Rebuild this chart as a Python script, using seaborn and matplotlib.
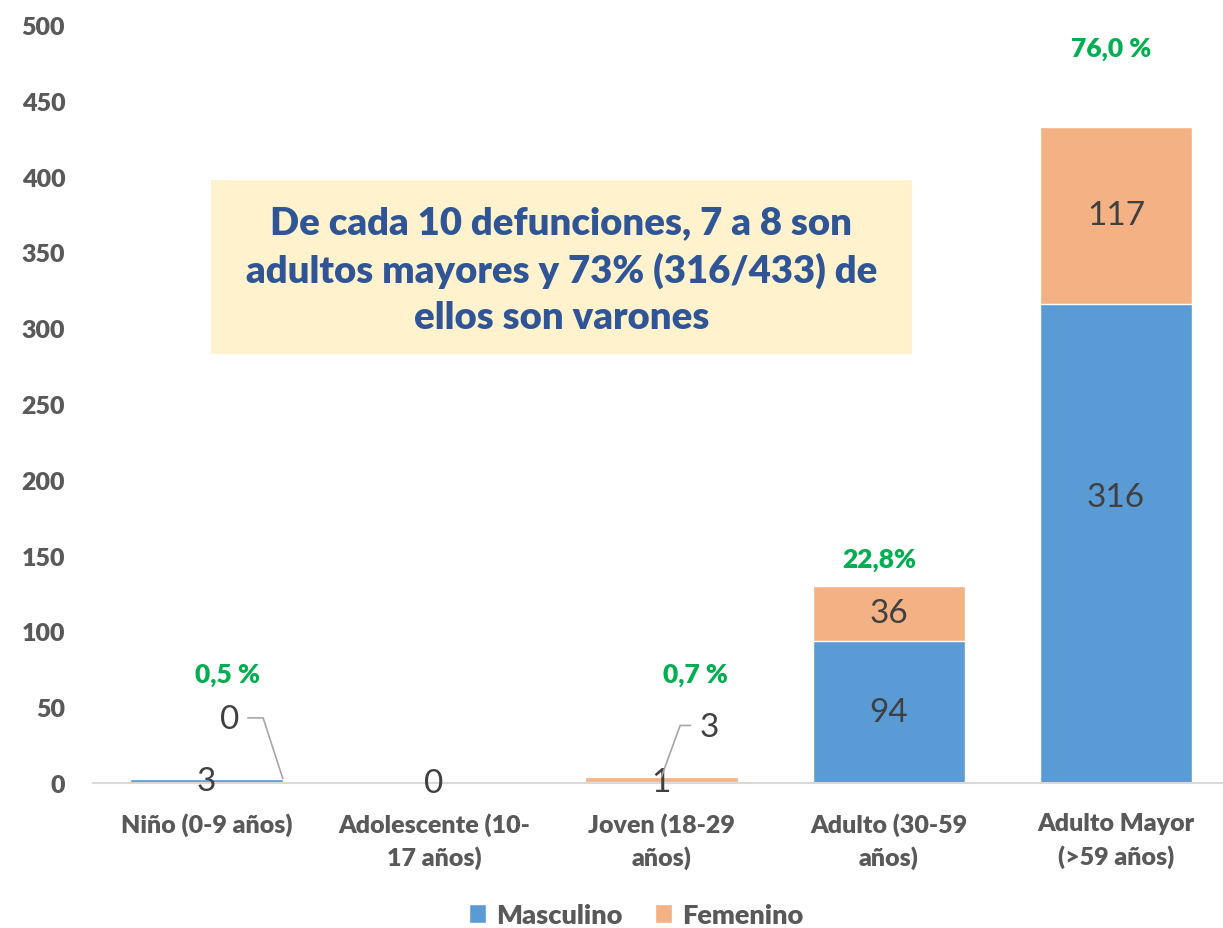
import pandas as pd
import seaborn as sns
import matplotlib.pyplot as plt
from matplotlib.patches import Rectangle

categorias = [
    "Niño (0-9 años)",
    "Adolescente (10-\n17 años)",
    "Joven (18-29\naños)",
    "Adulto (30-59\naños)",
    "Adulto Mayor\n(>59 años)",
]
masculino = [3, 0, 1, 94, 316]
femenino = [0, 0, 3, 36, 117]
porcentajes = ["0,5 %", "", "0,7 %", "22,8%", "76,0 %"]
mensaje = "De cada 10 defunciones, 7 a 8 son\nadultos mayores y 73% (316/433) de\nellos son varones"

AZUL = "#5B9BD5"
NARANJA = "#F4B183"
VERDE = "#00B050"
GRIS = "#595959"
ETIQ = "#404040"
PESO = "heavy"

df = pd.DataFrame({"cat": categorias, "Masculino": masculino, "Femenino": femenino})
df["total"] = df["Masculino"] + df["Femenino"]

sns.set_style("white")
plt.rcParams["font.family"] = ["Lato", "DejaVu Sans"]

fig = plt.figure(figsize=(12.23, 9.29), dpi=100)
ax = fig.add_axes([0.076, 0.156, 0.924, 0.816])

# stacked: total in orange, masculino over it in blue
sns.barplot(data=df, x="cat", y="total", color=NARANJA, width=0.67,
            saturation=1, label="Femenino", ax=ax)
sns.barplot(data=df, x="cat", y="Masculino", color=AZUL, width=0.67,
            saturation=1, label="Masculino", ax=ax)

ax.set_ylim(0, 500)
ax.set_xlim(-0.5, 4.47)
ax.set_yticks(range(0, 501, 50))
ax.set_xlabel("")
ax.set_ylabel("")
for s in ["top", "right", "left"]:
    ax.spines[s].set_visible(False)
ax.spines["bottom"].set_color("#D9D9D9")
ax.spines["bottom"].set_linewidth(1.5)
ax.tick_params(axis="both", length=0, labelsize=18, labelcolor=GRIS)
ax.tick_params(axis="x", pad=21)
ax.tick_params(axis="y", pad=20)
for t in ax.get_xticklabels() + ax.get_yticklabels():
    t.set_fontweight(PESO)
for t in ax.get_xticklabels():
    t.set_linespacing(1.5)

# segment value labels
ajuste_m = [0, 0, 0, 0, 31]  # data units, 316 label sits above centre
for i, (m, f) in enumerate(zip(masculino, femenino)):
    if i == 1:
        ax.text(i, 0, "0", ha="center", va="center", fontsize=24, color=ETIQ)
        continue
    ax.text(i, m / 2 + ajuste_m[i], str(m), ha="center", va="center",
            fontsize=24, color=ETIQ)
    if f >= 10:
        ax.text(i, m + f / 2, str(f), ha="center", va="center",
                fontsize=24, color=ETIQ)

# small values with leader lines
ax.annotate(str(femenino[0]), xy=(0.335, masculino[0] + femenino[0]),
            xytext=(0.1, 42), ha="center", va="center", fontsize=24, color=ETIQ,
            arrowprops=dict(arrowstyle="-", color="#A6A6A6", lw=1.2,
                            relpos=(1, 0.55), shrinkA=4, shrinkB=0,
                            connectionstyle="angle,angleA=0,angleB=108,rad=0"))
ax.annotate(str(femenino[2]), xy=(2.0, masculino[2] + femenino[2]),
            xytext=(2.21, 37), ha="center", va="center", fontsize=24, color=ETIQ,
            arrowprops=dict(arrowstyle="-", color="#A6A6A6", lw=1.2,
                            relpos=(0, 0.55), shrinkA=4, shrinkB=0,
                            connectionstyle="angle,angleA=0,angleB=70,rad=0"))

# percentage labels
desp = [(0.09, 69), (0, 0), (0.15, 68), (-0.04, 18), (-0.02, 52)]
for i, p in enumerate(porcentajes):
    if not p:
        continue
    dx, dy = desp[i]
    ax.text(i + dx, df["total"][i] + dy, p, ha="center", va="center",
            fontsize=19, fontweight=PESO, color=VERDE)

# message box
fig.patches.append(Rectangle((0.1725, 0.618), 0.573, 0.187, transform=fig.transFigure,
                             facecolor="#FFF2CC", edgecolor="none", zorder=5))
fig.text(0.459, 0.709, mensaje, ha="center", va="center", fontsize=27.5,
         fontweight=PESO, color="#2F5597", linespacing=1.42, zorder=6)

h, l = ax.get_legend_handles_labels()
orden = [l.index("Masculino"), l.index("Femenino")]
leg = fig.legend([h[k] for k in orden], [l[k] for k in orden], loc="center",
                 bbox_to_anchor=(0.52, 0.014), ncol=2, frameon=False,
                 fontsize=19.5, handlelength=0.65, handleheight=0.65,
                 handletextpad=0.35, columnspacing=1.2)
for t in leg.get_texts():
    t.set_color(GRIS)
    t.set_fontweight(PESO)
if ax.get_legend():
    ax.get_legend().remove()

fig.savefig("out.png", dpi=100)
